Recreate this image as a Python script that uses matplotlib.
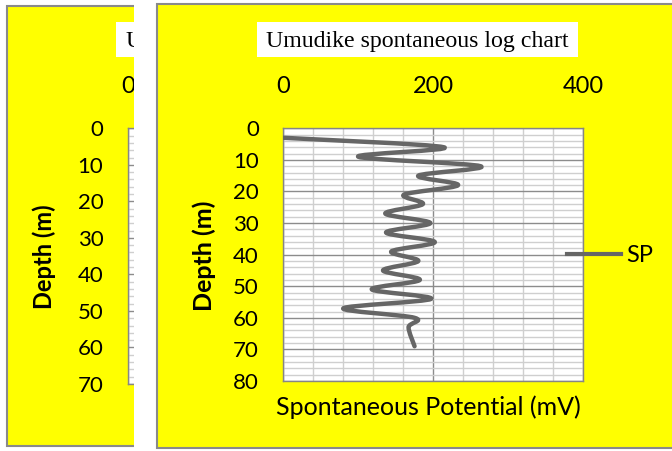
import matplotlib
matplotlib.use("Agg")
import matplotlib.pyplot as plt
import numpy as np
from matplotlib.patches import Rectangle, PathPatch
from matplotlib.path import Path
from matplotlib.lines import Line2D
from matplotlib.ticker import MultipleLocator

# Umudike SP log readings, depth (m) vs spontaneous potential (mV)
depth = [3, 6, 9, 12, 15, 18, 21, 24, 27, 30, 33, 36, 39, 42, 45, 48, 51, 54, 57, 60, 63, 69]
sp = [0, 214, 100, 263, 180, 233, 161, 186, 136, 196, 137, 202, 144, 180, 133, 182, 118, 197, 80, 175, 167, 175]

sp_ticks = [0, 200, 400]
left_sp_ticks = [0]  # the rest of the left chart is hidden behind the main one
depth_ticks = [0, 10, 20, 30, 40, 50, 60, 70, 80]
left_depth_ticks = [0, 10, 20, 30, 40, 50, 60, 70]

title = "Umudike spontaneous log chart"
series_name = "SP"

W, H = 672, 451
yellow = "#FFFF00"
border = "#8a8a8a"
line_col = "#666666"
calibri = "Lato"


def fx(x):
    return x / W


def fy(y):
    return 1 - y / H


def rect(x0, y0, x1, y1, **kw):
    # rectangle given in image pixels (top-left origin)
    return Rectangle((fx(x0), fy(y1)), fx(x1) - fx(x0), fy(y0) - fy(y1),
                     transform=fig.transFigure, **kw)


def smooth_path(xs, ys):
    # excel style smoothed line: bezier pieces through every point
    pts = np.column_stack([xs, ys]).astype(float)
    n = len(pts)
    verts = [pts[0]]
    codes = [Path.MOVETO]
    for i in range(n - 1):
        p0 = pts[max(i - 1, 0)]
        p1 = pts[i]
        p2 = pts[i + 1]
        p3 = pts[min(i + 2, n - 1)]
        verts += [p1 + (p2 - p0) / 6, p2 - (p3 - p1) / 6, p2]
        codes += [Path.CURVE4] * 3
    return Path(verts, codes)


def style_log_axes(ax, ymax, xticks, yticks):
    ax.set_xlim(0, 400)
    ax.set_ylim(ymax, 0)
    ax.xaxis.tick_top()
    ax.set_xticks(xticks)
    ax.set_yticks(yticks)
    ax.xaxis.set_minor_locator(MultipleLocator(40))
    ax.yaxis.set_minor_locator(MultipleLocator(2))
    ax.grid(which="minor", color="#cfcfcf", lw=1.0)
    ax.grid(which="major", color="#8c8c8c", lw=1.0)
    ax.set_axisbelow(True)
    ax.tick_params(which="both", length=0)
    ax.tick_params(axis="x", pad=22.5, labelsize=17)
    ax.tick_params(axis="y", pad=17.5, labelsize=16)
    for lab in ax.get_xticklabels() + ax.get_yticklabels():
        lab.set_fontfamily(calibri)
    for s in ax.spines.values():
        s.set_color("#868686")
        s.set_linewidth(1.0)
    ax.set_facecolor("white")


fig = plt.figure(figsize=(W / 100, H / 100), dpi=100)
fig.patch.set_facecolor("white")

# ---- left (partly hidden) chart ----
fig.add_artist(rect(7, 6, 140, 446, facecolor=yellow, edgecolor=border, lw=1.5, zorder=-2))
fig.add_artist(rect(116, 21.7, 140, 56.7, facecolor="white", edgecolor="none", zorder=-1))
fig.text(fx(125), fy(47), "Umudike", fontfamily="Liberation Serif", fontsize=17.2,
         ha="left", va="baseline", zorder=-1)
ax_left = fig.add_axes([fx(127.7), fy(384), fx(300), fy(128.3) - fy(384)], zorder=0)
style_log_axes(ax_left, 70, left_sp_ticks, left_depth_ticks)
fig.text(fx(44), fy(257), "Depth (m)", rotation=90, fontfamily=calibri, fontweight="bold",
         fontsize=17, ha="center", va="center", zorder=1)

# white gap hiding the rest of the left chart
fig.add_artist(rect(134, 0, 157, H, facecolor="white", edgecolor="none", zorder=2))

# ---- main chart ----
fig.add_artist(rect(157, 4, 690, 448, facecolor=yellow, edgecolor=border, lw=1.5, zorder=2.5))
fig.add_artist(rect(257, 21.7, 578, 56.7, facecolor="white", edgecolor="none", zorder=2.6))
fig.text(fx(417.5), fy(46.7), title, fontfamily="Liberation Serif", fontsize=17.2,
         ha="center", va="baseline", zorder=2.7)

ax = fig.add_axes([fx(283.3), fy(381), fx(583.3) - fx(283.3), fy(128.3) - fy(381)], zorder=3)
style_log_axes(ax, 80, sp_ticks, depth_ticks)
ax.add_patch(PathPatch(smooth_path(sp, depth), facecolor="none", edgecolor=line_col,
                       lw=3.2, capstyle="round", joinstyle="round", zorder=3))

fig.text(fx(204), fy(256), "Depth (m)", rotation=90, fontfamily=calibri, fontweight="bold",
         fontsize=18, ha="center", va="center", zorder=4)
fig.text(fx(428.5), fy(415), "Spontaneous Potential (mV)", fontfamily=calibri,
         fontsize=18, ha="center", va="baseline", zorder=4)

ax.legend(handles=[Line2D([], [], color=line_col, lw=3)], labels=[series_name],
          loc="center left", bbox_to_anchor=(fx(567), fy(256)), bbox_transform=fig.transFigure,
          frameon=False, borderpad=0, borderaxespad=0, handlelength=2.3, handletextpad=0.2,
          prop={"family": calibri, "size": 17})

fig.savefig("out.png", dpi=100)
